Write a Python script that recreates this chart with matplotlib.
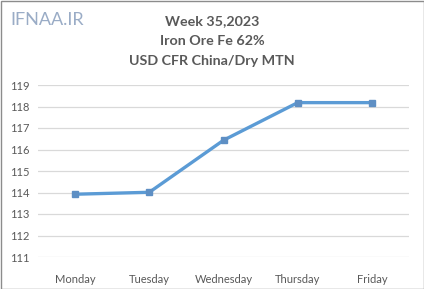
import matplotlib
matplotlib.use('Agg')
import matplotlib.pyplot as plt
from matplotlib.patches import Rectangle

days = ['Monday', 'Tuesday', 'Wednesday', 'Thursday', 'Friday']
prices = [113.92, 114.01, 116.43, 118.18, 118.18]
yticks = [111, 112, 113, 114, 115, 116, 117, 118, 119]

plt.rcParams['font.family'] = ['Lato', 'DejaVu Sans']

fig = plt.figure(figsize=(4.24, 2.89), dpi=100)
ax = fig.add_axes([38/424, 1 - 257/289, 371/424, 172/289])

x = range(len(days))
ax.plot(x, prices, color='#5B9BD5', linewidth=2.4, marker='s', markersize=5,
        markerfacecolor='#5E8FC4', markeredgecolor='#5E8FC4')

ax.set_xlim(-0.5, len(days) - 0.5)
ax.set_ylim(111, 119)
ax.set_yticks(yticks)
ax.set_xticks(list(x))
ax.set_xticklabels(days)
ax.grid(axis='y', color='#D9D9D9', linewidth=0.9)
ax.set_axisbelow(True)
for s in ax.spines.values():
    s.set_visible(False)
ax.tick_params(length=0, labelsize=8, colors='#595959', pad=6)
ax.tick_params(axis='x', pad=12)

titles = ['Week 35,2023', 'Iron Ore Fe 62%', 'USD CFR China/Dry MTN']
for i, t in enumerate(titles):
    fig.text(0.5, 1 - (21 + 20 * i)/289, t, ha='center', va='center',
             fontsize=10.3, fontweight='bold', color='#595959')
fig.text(10/424, 1 - 20/289, 'IFNAA.IR', ha='left', va='center',
         fontsize=13, color='#8FA3C0', alpha=0.9)

fig.patches.append(Rectangle((0.5/424, 0.5/289), 423/424, 288/289, transform=fig.transFigure,
                             fill=False, edgecolor='#8C8C8C', linewidth=1))

fig.savefig('out.png', dpi=100)
